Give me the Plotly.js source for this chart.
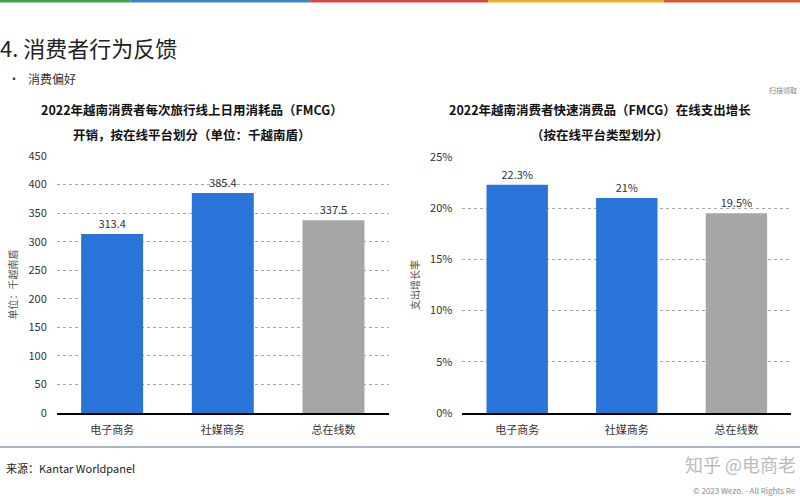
<!DOCTYPE html>
<html><head><meta charset="utf-8">
<script src="https://cdn.plot.ly/plotly-3.0.1.min.js"></script>
<style>html,body{margin:0;padding:0;background:#fff}#c{width:800px;height:500px}</style>
</head><body><div id="c"></div>
<script>
const categories = ["电子商务", "社媒商务", "总在线数"];
const spendValues = [313.4, 385.4, 337.5];
const spendLabels = ["313.4", "385.4", "337.5"];
const growthValues = [0.223, 0.21, 0.195];
const growthLabels = ["22.3%", "21%", "19.5%"];
const barColors = ["#2A73D9", "#2A73D9", "#A6A6A6"];
const spendTicks = [0, 50, 100, 150, 200, 250, 300, 350, 400, 450];
const growthTicks = [0, 0.05, 0.10, 0.15, 0.20, 0.25];
const growthTickText = ["0%", "5%", "10%", "15%", "20%", "25%"];

const F = '"Noto Sans CJK SC", "Noto Sans", sans-serif';
const txt = {family: F, size: 11, color: "#333"};

const traces = [
  {type: "bar", x: categories, y: spendValues, text: spendLabels, textposition: "outside",
   textfont: txt, marker: {color: barColors}, xaxis: "x", yaxis: "y", cliponaxis: false, hoverinfo: "none"},
  {type: "bar", x: categories, y: growthValues, text: growthLabels, textposition: "outside",
   textfont: txt, marker: {color: barColors}, xaxis: "x2", yaxis: "y2", cliponaxis: false, hoverinfo: "none"}
];

const yCommon = {showgrid: true, gridcolor: "#a8a8a8", griddash: "dot", gridwidth: 1,
  zeroline: false, showline: false, ticks: "", ticklabelstandoff: 9,
  tickfont: {family: F, size: 11, color: "#333"}, fixedrange: true};
const xCommon = {showline: true, linecolor: "#000", linewidth: 2, ticks: "", showgrid: false, ticklabelstandoff: 6,
  tickfont: {family: F, size: 11, color: "#333"}, fixedrange: true};

const layout = {
  width: 800, height: 500, margin: {l: 0, r: 0, t: 0, b: 0},
  paper_bgcolor: "#fff", plot_bgcolor: "#fff", showlegend: false, bargap: 0.44,
  font: {family: F},
  xaxis: Object.assign({}, xCommon, {domain: [0.071, 0.486], anchor: "y"}),
  yaxis: Object.assign({}, yCommon, {domain: [0.174, 0.688], range: [0, 450], tickvals: spendTicks, anchor: "x",
    title: {text: "单位：千越南盾", font: {family: F, size: 10, color: "#555"}, standoff: 8}}),
  xaxis2: Object.assign({}, xCommon, {domain: [0.578, 0.989], anchor: "y2"}),
  yaxis2: Object.assign({}, yCommon, {domain: [0.174, 0.686], range: [0, 0.25], tickvals: growthTicks,
    ticktext: growthTickText, anchor: "x2",
    title: {text: "支出增长率", font: {family: F, size: 10, color: "#555"}, standoff: 8}}),
  shapes: [
    {type: "rect", xref: "paper", yref: "paper", x0: 0, x1: 0.163, y0: 0.995, y1: 1, fillcolor: "#3DA24A", line: {width: 0}},
    {type: "rect", xref: "paper", yref: "paper", x0: 0.163, x1: 0.388, y0: 0.995, y1: 1, fillcolor: "#3B82C8", line: {width: 0}},
    {type: "rect", xref: "paper", yref: "paper", x0: 0.388, x1: 0.61, y0: 0.995, y1: 1, fillcolor: "#D9463E", line: {width: 0}},
    {type: "rect", xref: "paper", yref: "paper", x0: 0.61, x1: 0.83, y0: 0.995, y1: 1, fillcolor: "#F0B030", line: {width: 0}},
    {type: "rect", xref: "paper", yref: "paper", x0: 0.83, x1: 1, y0: 0.995, y1: 1, fillcolor: "#D9552E", line: {width: 0}},
    {type: "line", xref: "paper", yref: "paper", x0: 0, x1: 1, y0: 0.106, y1: 0.106, line: {color: "#8A9BB0", width: 1.5}}
  ],
  annotations: [
    {xref: "paper", yref: "paper", x: -0.003, y: 1 - 47/500, xanchor: "left", yanchor: "middle", showarrow: false,
     text: "4. 消费者行为反馈", font: {family: F, size: 22, color: "#222"}},
    {xref: "paper", yref: "paper", x: 0.008, y: 1 - 78/500, xanchor: "left", yanchor: "middle", showarrow: false,
     text: "•", font: {family: F, size: 12, color: "#333"}},
    {xref: "paper", yref: "paper", x: 0.033, y: 1 - 78/500, xanchor: "left", yanchor: "middle", showarrow: false,
     text: "消费偏好", font: {family: F, size: 12, color: "#333"}},
    {xref: "paper", yref: "paper", x: 0.999, y: 1 - 90/500, xanchor: "right", yanchor: "middle", showarrow: false,
     text: "扫描领取", font: {family: F, size: 7, color: "#888"}},
    {xref: "paper", yref: "paper", x: 0.24, y: 1 - 110/500, xanchor: "center", yanchor: "middle", showarrow: false,
     text: "<b>2022年越南消费者每次旅行线上日用消耗品（FMCG）</b>", font: {family: F, size: 12.5, color: "#111"}},
    {xref: "paper", yref: "paper", x: 0.24, y: 1 - 134/500, xanchor: "center", yanchor: "middle", showarrow: false,
     text: "<b>开销，按在线平台划分（单位：千越南盾）</b>", font: {family: F, size: 12.5, color: "#111"}},
    {xref: "paper", yref: "paper", x: 0.75, y: 1 - 110/500, xanchor: "center", yanchor: "middle", showarrow: false,
     text: "<b>2022年越南消费者快速消费品（FMCG）在线支出增长</b>", font: {family: F, size: 12.5, color: "#111"}},
    {xref: "paper", yref: "paper", x: 0.75, y: 1 - 134/500, xanchor: "center", yanchor: "middle", showarrow: false,
     text: "<b>（按在线平台类型划分）</b>", font: {family: F, size: 12.5, color: "#111"}},
    {xref: "paper", yref: "paper", x: 0.005, y: 1 - 468/500, xanchor: "left", yanchor: "middle", showarrow: false,
     text: "来源：Kantar Worldpanel", font: {family: F, size: 11, color: "#222"}},
    {xref: "paper", yref: "paper", x: 0.998, y: 1 - 464/500, xanchor: "right", yanchor: "middle", showarrow: false,
     text: "知乎 @电商老", font: {family: F, size: 18, color: "#bbb"}},
    {xref: "paper", yref: "paper", x: 0.998, y: 1 - 490/500, xanchor: "right", yanchor: "middle", showarrow: false,
     text: "© 2023 Wezo. - All Rights Re", font: {family: F, size: 8, color: "#888"}}
  ]
};

Plotly.newPlot("c", traces, layout, {displayModeBar: false, staticPlot: true});
</script></body></html>
